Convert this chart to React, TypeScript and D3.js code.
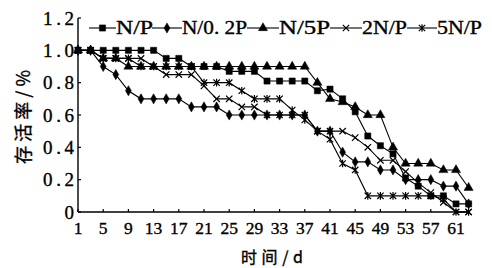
import React from 'react';
import * as d3 from 'd3';

// ---- data ----
const days = [1, 3, 5, 7, 9, 11, 13, 15, 17, 19, 21, 23, 25, 27, 29, 31, 33, 35, 37, 39, 41, 43, 45, 47, 49, 51, 53, 55, 57, 59, 61, 63];
const seriesNP = [1, 1, 1, 1, 1, 1, 1, 0.95, 0.95, 0.9, 0.9, 0.9, 0.87, 0.87, 0.87, 0.81, 0.81, 0.81, 0.81, 0.75, 0.76, 0.7, 0.62, 0.47, 0.41, 0.36, 0.21, 0.16, 0.1, 0.1, 0.05, 0.05];
const seriesN02P = [1, 1, 0.9, 0.85, 0.75, 0.7, 0.7, 0.7, 0.7, 0.65, 0.65, 0.65, 0.6, 0.6, 0.6, 0.6, 0.6, 0.6, 0.6, 0.5, 0.5, 0.37, 0.31, 0.31, 0.26, 0.26, 0.2, 0.2, 0.2, 0.16, 0.16, 0.05];
const seriesN5P = [1, 1, 0.95, 0.95, 0.9, 0.9, 0.9, 0.9, 0.9, 0.9, 0.9, 0.9, 0.9, 0.9, 0.9, 0.9, 0.9, 0.9, 0.9, 0.8, 0.7, 0.68, 0.65, 0.6, 0.6, 0.4, 0.3, 0.3, 0.3, 0.26, 0.26, 0.15];
const series2NP = [1, 1, 0.95, 0.95, 0.95, 0.95, 0.9, 0.85, 0.85, 0.85, 0.78, 0.7, 0.7, 0.65, 0.65, 0.6, 0.6, 0.6, 0.6, 0.5, 0.5, 0.5, 0.46, 0.4, 0.32, 0.32, 0.25, 0.18, 0.12, 0.06, 0, 0];
const series5NP = [1, 1, 0.95, 0.95, 0.95, 0.9, 0.9, 0.9, 0.9, 0.9, 0.8, 0.8, 0.8, 0.75, 0.7, 0.7, 0.7, 0.63, 0.57, 0.5, 0.45, 0.3, 0.26, 0.1, 0.1, 0.1, 0.1, 0.1, 0.1, 0.08, 0, 0];
const seriesNames = ['N/P', 'N/0. 2P', 'N/5P', '2N/P', '5N/P'];
const xTicks = [1, 5, 9, 13, 17, 21, 25, 29, 33, 37, 41, 45, 49, 53, 57, 61];
const yTicks = [0, 0.2, 0.4, 0.6, 0.8, 1.0, 1.2];
const yTickLabels = ['0', '0.2', '0.4', '0.6', '0.8', '1.0', '1.2'];
const xTitle = '时间/d';
const yTitle = '存活率/%';

// ---- layout ----
const W = 492, H = 268;
const x = d3.scaleLinear().domain([1, 61]).range([78, 456]);
const y = d3.scaleLinear().domain([0, 1.2]).range([212, 18]);
const serif = '"Liberation Serif", "DejaVu Serif", serif';
const cjk = '"Noto Sans CJK SC", sans-serif';
const textStroke = { stroke: '#000', strokeWidth: 0.35 };

type MarkerKind = 'square' | 'diamond' | 'triangle' | 'x' | 'asterisk';
const markers: MarkerKind[] = ['square', 'diamond', 'triangle', 'x', 'asterisk'];
const allSeries = [seriesNP, seriesN02P, seriesN5P, series2NP, series5NP];

const symPath = (kind: MarkerKind): { d: string; fill: boolean } => {
  if (kind === 'square') return { d: d3.symbol(d3.symbolSquare, 38)() as string, fill: true };
  if (kind === 'diamond') return { d: d3.symbol(d3.symbolDiamond, 30)() as string, fill: true };
  if (kind === 'triangle') return { d: d3.symbol(d3.symbolTriangle, 36)() as string, fill: true };
  if (kind === 'x') return { d: 'M-3.2,-3.2L3.2,3.2M-3.2,3.2L3.2,-3.2', fill: false };
  return { d: 'M-3.2,-3.2L3.2,3.2M-3.2,3.2L3.2,-3.2M0,-3.8L0,3.8', fill: false };
};

const Marker = ({ kind, cx, cy }: { kind: MarkerKind; cx: number; cy: number }) => {
  const s = symPath(kind);
  return (
    <path
      d={s.d}
      transform={`translate(${cx},${cy})`}
      fill={s.fill ? '#000' : 'none'}
      stroke="#000"
      strokeWidth={s.fill ? 0.5 : 1.2}
    />
  );
};

// legend layout: [lineStart, lineEnd, textStart, textWidth]
const legendLayout = [
  [89, 116, 116, 37],
  [152, 182, 182, 65],
  [247, 279, 279, 51],
  [330, 362, 362, 45],
  [407, 437, 437, 45],
];

export default function App() {
  const line = d3
    .line<number>()
    .x((_, i) => x(days[i]))
    .y((v) => y(v));

  return (
    <svg
      width={W}
      height={H}
      viewBox={`0 0 ${W} ${H}`}
      style={{ position: 'absolute', left: 0, top: 0, background: '#fff' }}
    >
      <rect width={W} height={H} fill="#fff" />
      {/* axes */}
      <line x1={x(1)} x2={x(1)} y1={y(1.2)} y2={y(0)} stroke="#000" strokeWidth={1.4} />
      <line x1={x(1)} x2={470} y1={y(0)} y2={y(0)} stroke="#000" strokeWidth={1.4} />
      {yTicks.map((t, i) => (
        <g key={'yt' + i}>
          <line x1={x(1)} x2={x(1) + 3} y1={y(t)} y2={y(t)} stroke="#000" strokeWidth={1.2} />
          <text
            x={74}
            y={y(t) + 6.5}
            textAnchor="end"
            fontFamily={serif}
            fontSize={19}
            {...textStroke}
            {...(yTickLabels[i].length > 1 ? { textLength: 31, lengthAdjust: 'spacing' } : {})}
          >
            {yTickLabels[i]}
          </text>
        </g>
      ))}
      {xTicks.map((t) => (
        <g key={'xt' + t}>
          <line x1={x(t)} x2={x(t)} y1={y(0)} y2={y(0) - 3} stroke="#000" strokeWidth={1.2} />
          <text x={x(t)} y={233.5} textAnchor="middle" fontFamily={serif} fontSize={17.5} {...textStroke}>
            {t}
          </text>
        </g>
      ))}
      {/* titles */}
      <text x={241} y={263} fontFamily={cjk} fontSize={16} textLength={62} lengthAdjust="spacing" {...textStroke}>
        {xTitle}
      </text>
      <text
        transform={`translate(30,164) rotate(-90)`}
        fontFamily={cjk}
        fontSize={18}
        textLength={94}
        lengthAdjust="spacing"
        {...textStroke}
      >
        {yTitle}
      </text>
      {/* series */}
      {allSeries.map((s, si) => (
        <path key={'l' + si} d={line(s) as string} fill="none" stroke="#000" strokeWidth={1.1} />
      ))}
      {allSeries.map((s, si) =>
        s.map((v, i) => <Marker key={`m${si}-${i}`} kind={markers[si]} cx={x(days[i])} cy={y(v)} />)
      )}
      {/* legend */}
      {seriesNames.map((name, i) => {
        const [l0, l1, tx, tw] = legendLayout[i];
        return (
          <g key={'lg' + i}>
            <line x1={l0} x2={l1} y1={28} y2={28} stroke="#000" strokeWidth={1.1} />
            <Marker kind={markers[i]} cx={(l0 + l1) / 2} cy={28} />
            <text
              x={tx}
              y={34}
              fontFamily={serif}
              fontSize={19}
              textLength={tw}
              lengthAdjust="spacingAndGlyphs"
              {...textStroke}
            >
              {name}
            </text>
          </g>
        );
      })}
    </svg>
  );
}
